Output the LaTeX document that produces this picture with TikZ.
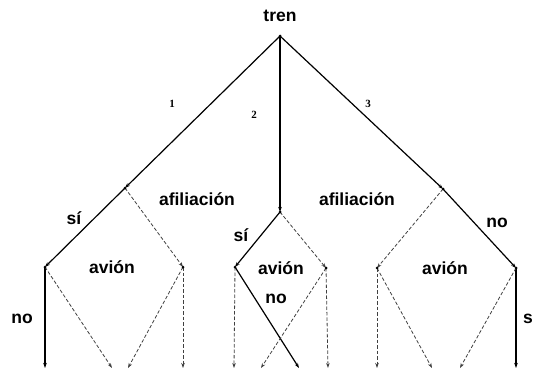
\documentclass[tikz,border=0pt]{standalone}
\usepackage{fontspec}
\setmainfont{Liberation Sans}
\newfontfamily\numfont{Liberation Serif}
\usetikzlibrary{arrows.meta}

\begin{document}
\begin{tikzpicture}[x=1pt,y=-1pt,
    branch/.style={line width=1.2pt, -{Stealth[length=5pt,width=3.5pt]}},
    guess/.style={line width=0.8pt, black!75, dash pattern=on 3.5pt off 2pt, -{Stealth[length=5pt,width=3.5pt]}},
    dot/.style={circle, fill=black, inner sep=0pt, minimum size=3pt},
    lbl/.style={font=\fontsize{17.5}{20}\selectfont\bfseries, inner sep=0pt},
    num/.style={font=\numfont\bfseries\fontsize{11}{13}\selectfont, inner sep=0pt}]
    \useasboundingbox (0,0) rectangle (533,372);
    % tree points
    \coordinate (root) at (280,36);
    \coordinate (a) at (125,188);
    \coordinate (b) at (280,212);
    \coordinate (c) at (443,189);
    \coordinate (a1) at (45,267);
    \coordinate (a2) at (183,267);
    \coordinate (b1) at (235,267);
    \coordinate (b2) at (326,268);
    \coordinate (c1) at (377,268);
    \coordinate (c2) at (516,268);
    % leaves
    \foreach \n/\x in {1/45,2/112,3/128,4/183,5/234,6/261,7/299,8/328,9/377,10/432,11/460,12/516}
      \coordinate (leaf\n) at (\x,368);
    % first moves
    \draw[branch] (root) -- (a);
    \draw[branch] (root) -- (b);
    \draw[branch] (root) -- (c);
    % second moves
    \draw[branch] (a) -- (a1);
    \draw[guess] (a) -- (a2);
    \draw[branch] (b) -- (b1);
    \draw[guess] (b) -- (b2);
    \draw[guess] (c) -- (c1);
    \draw[branch] (c) -- (c2);
    % last moves
    \draw[branch] (a1) -- (leaf1);
    \draw[branch] (b1) -- (leaf7);
    \draw[branch] (c2) -- (leaf12);
    \foreach \p/\q in {a1/leaf2,a2/leaf3,a2/leaf4,b1/leaf5,b2/leaf6,b2/leaf8,c1/leaf9,c1/leaf10,c2/leaf11}
      \draw[guess] (\p) -- (\q);
    \foreach \p in {root,a,b,c,a1,a2,b1,b2,c1,c2}
      \node[dot] at (\p) {};
    % labels
    \node[lbl] (tren) at (280,16) {tren};
    \node[num] (n1) at (172,104) {1};
    \node[num] (n2) at (254,115) {2};
    \node[num] (n3) at (368,104) {3};
    \node[lbl] (afilL) at (197,199) {afiliación};
    \node[lbl] (afilR) at (357,199) {afiliación};
    \node[lbl] (siL) at (74,218) {sí};
    \node[lbl] (siM) at (241,235) {sí};
    \node[lbl] (noR) at (497,223) {no};
    \node[lbl] (avionL) at (112,267) {avión};
    \node[lbl] (avionM) at (281,268) {avión};
    \node[lbl] (avionR) at (445,268) {avión};
    \node[lbl] (noM) at (276,299) {no};
    \node[lbl] (noL) at (22,319) {no};
    \node[lbl, anchor=west] (siR) at (523,319) {s};
\end{tikzpicture}
\end{document}
